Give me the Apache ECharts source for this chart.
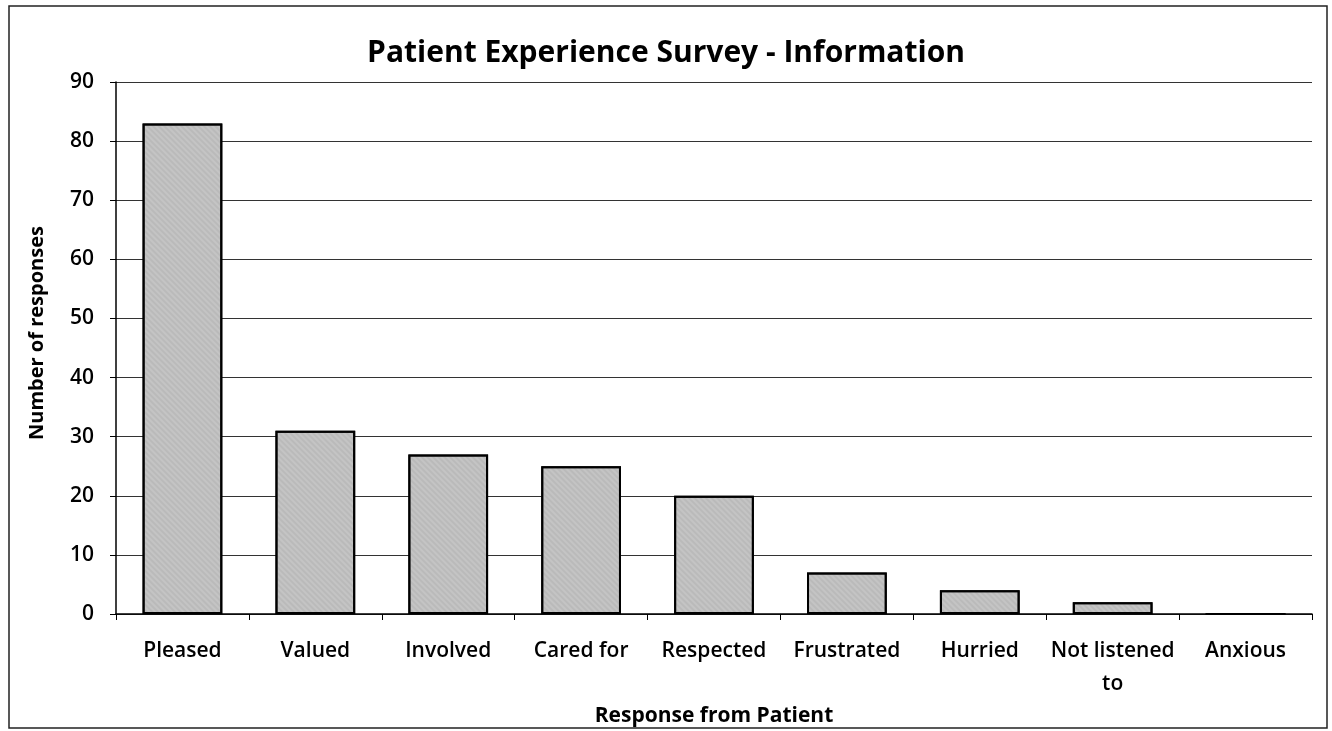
<!DOCTYPE html>
<html>
<head>
<meta charset="utf-8">
<script src="https://cdn.jsdelivr.net/npm/echarts@6/dist/echarts.min.js"></script>
<style>
  html, body { margin: 0; padding: 0; background: #fff; }
  #chart { width: 1332px; height: 731px; }
</style>
</head>
<body>
<div id="chart"></div>
<script>
const categories = ['Pleased', 'Valued', 'Involved', 'Cared for', 'Respected', 'Frustrated', 'Hurried', 'Not listened\nto', 'Anxious']
const responses = [83, 31, 27, 25, 20, 7, 4, 2, 0]
const yTicks = { min: 0, max: 90, interval: 10 }

const font = '"Open Sans", "Noto Sans", sans-serif'

const chart = echarts.init(document.getElementById('chart'))
chart.setOption({
    animation: false,
    textStyle: { fontFamily: font },
    title: {
        text: 'Patient Experience Survey - Information',
        left: 'center',
        top: 33,
        textStyle: { fontSize: 30, fontWeight: 'bold', color: '#000', fontFamily: font }
    },
    graphic: [{
        type: 'rect',
        shape: { x: 9, y: 6, width: 1318, height: 722 },
        style: { fill: 'none', stroke: '#222', lineWidth: 1.5 }
    }],
    grid: { left: 116, right: 20, top: 82, bottom: 117, outerBoundsMode: 'none' },
    xAxis: {
        type: 'category',
        data: categories,
        name: 'Response from Patient',
        nameLocation: 'middle',
        nameGap: 79,
        nameTextStyle: { fontSize: 21, fontWeight: 'bold', color: '#000' },
        axisLine: { lineStyle: { color: '#000', width: 1.5 } },
        axisTick: { show: true, length: 6, lineStyle: { color: '#000' } },
        axisLabel: { interval: 0, fontSize: 21, fontWeight: 600, color: '#000', margin: 21, lineHeight: 33 }
    },
    yAxis: {
        type: 'value',
        min: yTicks.min,
        max: yTicks.max,
        interval: yTicks.interval,
        name: 'Number of responses',
        nameLocation: 'middle',
        nameGap: 69,
        nameTextStyle: { fontSize: 20, fontWeight: 'bold', color: '#000', padding: [0, 0, 0, 30] },
        axisLine: { show: true, lineStyle: { color: '#000', width: 1.5 } },
        axisTick: { show: true, length: 6, lineStyle: { color: '#000' } },
        axisLabel: { fontSize: 21, fontWeight: 600, color: '#000', margin: 22 },
        splitLine: { lineStyle: { color: '#333', width: 1 } }
    },
    series: [{
        type: 'bar',
        data: responses,
        barWidth: '60%',
        itemStyle: {
            color: '#c4c4c4',
            borderColor: '#000',
            borderWidth: 2,
            decal: {
                symbol: 'rect',
                symbolSize: 0.5,
                dashArrayX: [1, 0],
                dashArrayY: [2, 2],
                rotation: Math.PI / 4,
                color: 'rgba(90,90,90,0.35)'
            }
        }
    }]
})
</script>
</body>
</html>
